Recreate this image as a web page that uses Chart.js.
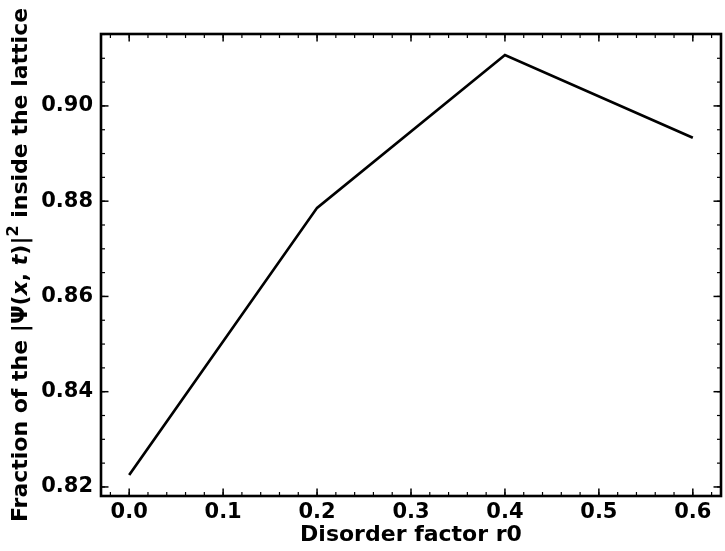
<!DOCTYPE html>
<html>
<head>
<meta charset="utf-8">
<script src="https://cdn.jsdelivr.net/npm/chart.js@4.4.0/dist/chart.umd.min.js"></script>
<style>
  html, body { margin: 0; padding: 0; background: #fff; }
  #wrap { width: 725px; height: 551px; position: relative; }
</style>
</head>
<body>
<div id="wrap"><canvas id="c" width="725" height="551"></canvas></div>
<script>
// ---- data ----
const disorderFactors = [0.0, 0.2, 0.4, 0.6];
const fractionInside = [0.8225, 0.8786, 0.9107, 0.8933];
const xTickValues = [0.0, 0.1, 0.2, 0.3, 0.4, 0.5, 0.6];
const yTickValues = [0.82, 0.84, 0.86, 0.88, 0.90];
const xAxisTitle = 'Disorder factor r0';

const FONT = '"DejaVu Sans", sans-serif';

const points = disorderFactors.map((x, i) => ({ x: x, y: fractionInside[i] }));

function range(a, b, step) {
  const out = [];
  const n = Math.round((b - a) / step);
  for (let i = 0; i <= n; i++) out.push(+(a + i * step).toFixed(6));
  return out;
}

const frameAndTicks = {
  id: 'frameAndTicks',
  afterDraw(chart) {
    const ctx = chart.ctx;
    const { left, right, top, bottom } = chart.chartArea;
    const xs = chart.scales.x, ys = chart.scales.y;
    ctx.save();
    ctx.strokeStyle = '#000';
    const drawX = (vals, len, w) => {
      ctx.lineWidth = w;
      vals.forEach(v => {
        const px = xs.getPixelForValue(v);
        if (px < left - 0.5 || px > right + 0.5) return;
        ctx.beginPath(); ctx.moveTo(px, bottom); ctx.lineTo(px, bottom - len); ctx.stroke();
        ctx.beginPath(); ctx.moveTo(px, top); ctx.lineTo(px, top + len); ctx.stroke();
      });
    };
    const drawY = (vals, len, w) => {
      ctx.lineWidth = w;
      vals.forEach(v => {
        const py = ys.getPixelForValue(v);
        if (py < top - 0.5 || py > bottom + 0.5) return;
        ctx.beginPath(); ctx.moveTo(left, py); ctx.lineTo(left + len, py); ctx.stroke();
        ctx.beginPath(); ctx.moveTo(right, py); ctx.lineTo(right - len, py); ctx.stroke();
      });
    };
    drawX(range(-0.02, 0.62, 0.02), 4, 1.2);
    drawY(range(0.82, 0.915, 0.005), 4, 1.2);
    drawX(xTickValues, 7.5, 1.5);
    drawY(yTickValues, 7.5, 1.5);
    ctx.lineWidth = 2.6;
    ctx.strokeRect(left, top, right - left, bottom - top);

    // y-axis title with mixed styling
    const segs = [
      { t: 'Fraction of the |', f: 'bold 22px ' + FONT },
      { t: 'Ψ', f: 'bold 22px ' + FONT },
      { t: '(', f: 'bold 22px ' + FONT },
      { t: 'x', f: 'italic bold 22px ' + FONT },
      { t: ', ', f: 'bold 22px ' + FONT },
      { t: 't', f: 'italic bold 22px ' + FONT },
      { t: ')|', f: 'bold 22px ' + FONT },
      { t: '2', f: 'bold 16px ' + FONT, sup: true },
      { t: ' inside the lattice', f: 'bold 22px ' + FONT }
    ];
    let total = 0;
    segs.forEach(s => { ctx.font = s.f; s.w = ctx.measureText(s.t).width; total += s.w; });
    ctx.translate(27, (top + bottom) / 2);
    ctx.rotate(-Math.PI / 2);
    ctx.fillStyle = '#000';
    ctx.textBaseline = 'alphabetic';
    let cx = -total / 2;
    segs.forEach(s => {
      ctx.font = s.f;
      ctx.fillText(s.t, cx, s.sup ? -9 : 0);
      cx += s.w;
    });
    ctx.restore();
  }
};

new Chart(document.getElementById('c'), {
  type: 'scatter',
  data: {
    datasets: [{
      data: points,
      showLine: true,
      borderColor: '#000',
      backgroundColor: '#000',
      borderWidth: 2.7,
      pointRadius: 0,
      fill: false,
      tension: 0
    }]
  },
  options: {
    responsive: false,
    animation: false,
    layout: { padding: { top: 34, right: 4, left: 0, bottom: 0 } },
    plugins: { legend: { display: false }, tooltip: { enabled: false } },
    scales: {
      x: {
        type: 'linear',
        min: -0.03,
        max: 0.63,
        afterBuildTicks: s => { s.ticks = xTickValues.map(v => ({ value: v })); },
        afterFit: s => { s.height = 55; },
        grid: { display: false, drawTicks: false },
        border: { display: false },
        ticks: {
          color: '#000',
          padding: 4,
          maxRotation: 0,
          font: { family: FONT, size: 21, weight: 'bold' },
          callback: v => Number(v).toFixed(1)
        },
        title: {
          display: true,
          text: xAxisTitle,
          color: '#000',
          padding: { top: 0, bottom: 3 },
          font: { family: FONT, size: 22, weight: 'bold' }
        }
      },
      y: {
        type: 'linear',
        min: 0.8181,
        max: 0.9151,
        afterBuildTicks: s => { s.ticks = yTickValues.map(v => ({ value: v })); },
        afterFit: s => { s.width = 101; },
        grid: { display: false, drawTicks: false },
        border: { display: false },
        ticks: {
          color: '#000',
          padding: 8,
          font: { family: FONT, size: 21, weight: 'bold' },
          callback: v => Number(v).toFixed(2)
        }
      }
    }
  },
  plugins: [frameAndTicks]
});
</script>
</body>
</html>
